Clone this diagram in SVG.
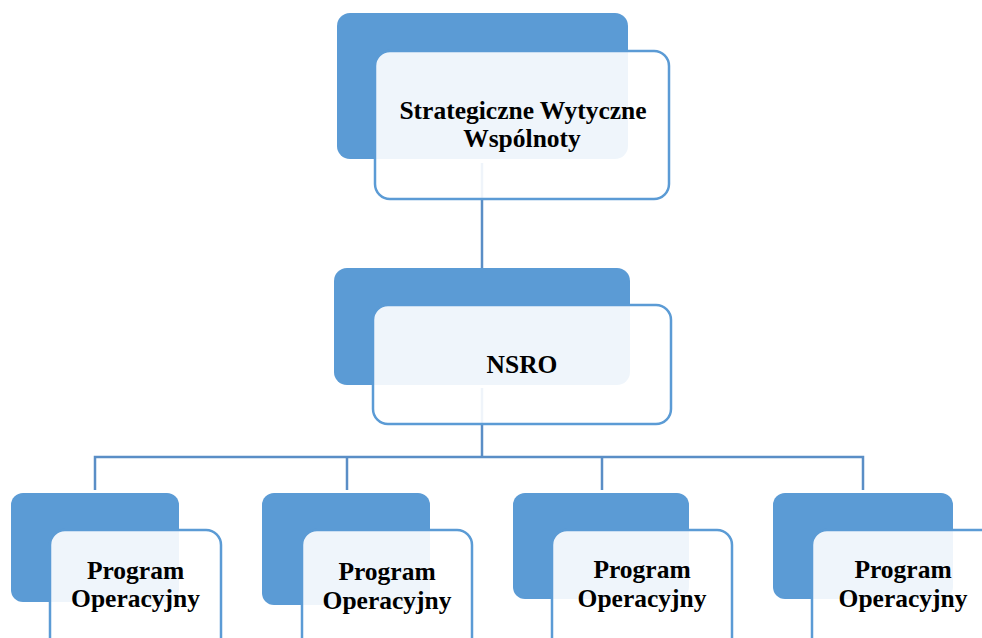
<svg xmlns="http://www.w3.org/2000/svg" width="982" height="638" viewBox="0 0 982 638">
<style>
.back{fill:#5b9bd5;}
.front{fill:#ffffff;fill-opacity:0.9;stroke:#5b9bd5;stroke-width:2.5;}
.lbl{font-family:"Liberation Serif","Times New Roman",serif;font-weight:bold;font-size:25.5px;fill:#000;text-anchor:middle;}
.conn{fill:none;stroke:#5a8ec6;stroke-width:2.5;}
</style>
<rect width="982" height="638" fill="#ffffff"/>
<g id="n-top-back"><rect class="back" x="337" y="13" width="291" height="146" rx="13"/></g>
<g id="n-mid-back"><rect class="back" x="334" y="268" width="296" height="117" rx="13"/></g>
<g id="n-p1-back"><rect class="back" x="11" y="493" width="168" height="109" rx="12"/></g>
<g id="n-p2-back"><rect class="back" x="262" y="493" width="168" height="112" rx="12"/></g>
<g id="n-p3-back"><rect class="back" x="513" y="493" width="176" height="106" rx="12"/></g>
<g id="n-p4-back"><rect class="back" x="773" y="493" width="180" height="106" rx="12"/></g>
<g id="connectors">
<path class="conn" d="M482 163 V268"/>
<path class="conn" d="M482 388 V457"/>
<path class="conn" d="M95 490 V457 H863 V490"/>
<path class="conn" d="M347 457 V490"/>
<path class="conn" d="M602 457 V490"/>
</g>
<g id="n-top">
<rect class="front" x="375" y="51" width="294" height="148" rx="15"/>
<text class="lbl" x="523" y="118.5">Strategiczne Wytyczne</text>
<text class="lbl" x="522" y="147">Wspólnoty</text>
</g>
<g id="n-mid">
<rect class="front" x="373" y="305" width="298" height="119" rx="15"/>
<text class="lbl" x="522" y="373">NSRO</text>
</g>
<g id="n-p1">
<rect class="front" x="50" y="530" width="171" height="130" rx="15"/>
<text class="lbl" x="135.5" y="578.5">Program</text>
<text class="lbl" x="135.5" y="607">Operacyjny</text>
</g>
<g id="n-p2">
<rect class="front" x="302" y="530" width="170" height="130" rx="15"/>
<text class="lbl" x="387" y="580">Program</text>
<text class="lbl" x="387" y="608.5">Operacyjny</text>
</g>
<g id="n-p3">
<rect class="front" x="552" y="530" width="180" height="130" rx="15"/>
<text class="lbl" x="642" y="578">Program</text>
<text class="lbl" x="642" y="606.5">Operacyjny</text>
</g>
<g id="n-p4">
<rect class="front" x="812" y="530" width="200" height="130" rx="15"/>
<text class="lbl" x="903" y="578">Program</text>
<text class="lbl" x="903" y="606.5">Operacyjny</text>
</g>
</svg>
